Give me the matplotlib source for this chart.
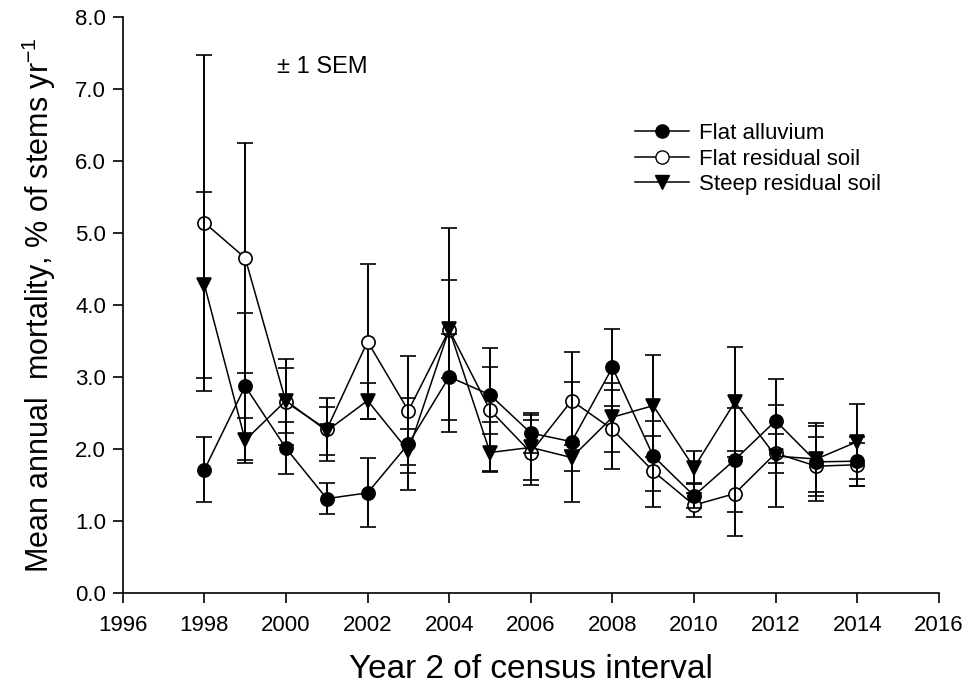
import matplotlib
matplotlib.use("Agg")
import matplotlib.pyplot as plt
from matplotlib.lines import Line2D
import numpy as np

# mean annual mortality (% of stems / yr) and SEM
years = [1998, 1999, 2000, 2001, 2002, 2003, 2004, 2005, 2006,
         2007, 2008, 2009, 2010, 2011, 2012, 2013, 2014]

flat_alluvium = [1.71, 2.87, 2.01, 1.31, 1.39, 2.07, 3.00, 2.75, 2.22,
                 2.10, 3.13, 1.90, 1.35, 1.85, 2.39, 1.82, 1.83]
flat_alluvium_se = [0.45, 1.02, 0.36, 0.22, 0.48, 0.64, 0.60, 0.38, 0.28,
                    0.83, 0.53, 0.49, 0.17, 0.72, 0.58, 0.54, 0.34]

flat_residual = [5.14, 4.65, 2.65, 2.27, 3.49, 2.53, 3.65, 2.54, 1.95,
                 2.67, 2.27, 1.69, 1.22, 1.38, 1.94, 1.76, 1.78]
flat_residual_se = [2.33, 1.60, 0.60, 0.44, 1.08, 0.76, 1.42, 0.86, 0.45,
                    0.68, 0.55, 0.49, 0.17, 0.59, 0.27, 0.41, 0.30]

steep_residual = [4.28, 2.12, 2.67, 2.25, 2.67, 1.97, 3.66, 1.95, 2.02,
                  1.88, 2.44, 2.60, 1.74, 2.65, 1.90, 1.86, 2.10]
steep_residual_se = [1.29, 0.31, 0.45, 0.33, 0.25, 0.30, 0.68, 0.25, 0.45,
                     0.18, 0.48, 0.71, 0.23, 0.76, 0.71, 0.46, 0.52]

labels = ['Flat alluvium', 'Flat residual soil', 'Steep residual soil']

plt.rcParams['font.family'] = ['Liberation Sans', 'DejaVu Sans']
plt.rcParams['mathtext.fontset'] = 'custom'
plt.rcParams['mathtext.rm'] = 'Liberation Sans'

fig = plt.figure(figsize=(9.78, 6.89), dpi=100)
ax = fig.add_axes([0.1255, 0.1393, 0.8345, 0.8367])

eb = dict(color='black', lw=1.1, elinewidth=1.4, capsize=6, capthick=1.4,
          markersize=9.5, markeredgecolor='black', markeredgewidth=1.2)

ax.errorbar(years, steep_residual, yerr=steep_residual_se, fmt='-v',
            markerfacecolor='black', zorder=3, **eb)
ax.errorbar(years, flat_residual, yerr=flat_residual_se, fmt='-o',
            markerfacecolor='white', zorder=2, **eb)
ax.errorbar(years, flat_alluvium, yerr=flat_alluvium_se, fmt='-o',
            markerfacecolor='black', zorder=4, **eb)

ax.set_xlim(1996, 2016)
ax.set_ylim(0, 8)
ax.set_xticks(np.arange(1996, 2017, 2))
ax.set_yticks(np.arange(0, 8.1, 1))
ax.set_yticklabels(['%.1f' % v for v in np.arange(0, 8.1, 1)])
ax.tick_params(direction='out', length=7, width=1.2, labelsize=16)
ax.tick_params(axis='x', pad=9)
ax.tick_params(axis='y', pad=5)

for s in ['top', 'right']:
    ax.spines[s].set_visible(False)
for s in ['left', 'bottom']:
    ax.spines[s].set_linewidth(1.2)

ax.set_xlabel('Year 2 of census interval', fontsize=24)
ax.xaxis.set_label_coords(0.5, -0.105)
ax.set_ylabel(r'Mean annual  mortality, % of stems yr$^{\mathregular{-1}}$',
              fontsize=22, labelpad=12)

ax.text(0.189, 0.912, '± 1 SEM', transform=ax.transAxes, fontsize=17,
        va='center', ha='left')

handles = [
    Line2D([], [], color='black', lw=1.1, marker='o', markersize=9.5,
           markerfacecolor='black', markeredgecolor='black'),
    Line2D([], [], color='black', lw=1.1, marker='o', markersize=9.5,
           markerfacecolor='white', markeredgecolor='black'),
    Line2D([], [], color='black', lw=1.1, marker='v', markersize=9.5,
           markerfacecolor='black', markeredgecolor='black'),
]
ax.legend(handles, labels, loc='upper left',
          bbox_to_anchor=(0.628, 0.815), frameon=False, fontsize=16,
          handlelength=2.4, handletextpad=0.45, labelspacing=0.2,
          borderpad=0, borderaxespad=0)

fig.savefig('out.png', dpi=100)
